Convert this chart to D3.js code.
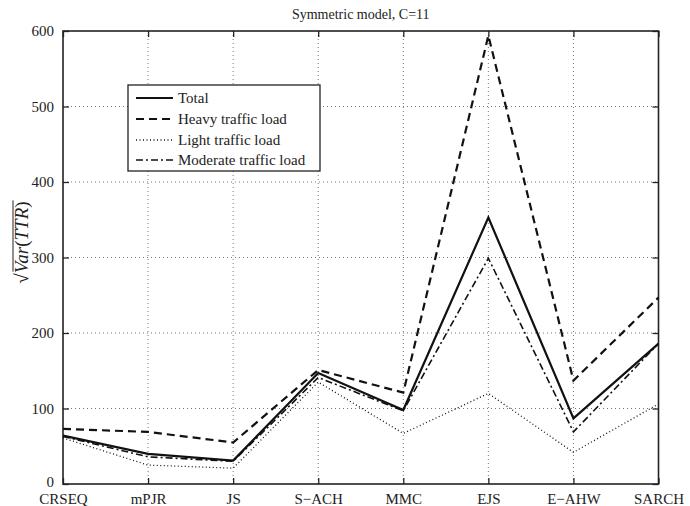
<!DOCTYPE html>
<html>
<head>
<meta charset="utf-8">
<script src="https://cdn.jsdelivr.net/npm/d3@7"></script>
<style>
body{margin:0;background:#fff;}
svg{display:block;font-family:"Liberation Serif","Times New Roman",serif;}
</style>
</head>
<body>
<svg id="chart" width="690" height="506"></svg>
<script>
const categories = ["CRSEQ","mPJR","JS","S\u2212ACH","MMC","EJS","E\u2212AHW","SARCH"];
const total    = [64, 40, 31, 147, 98, 353, 87, 186];
const heavy    = [73, 69, 55, 151, 121, 594, 137, 247];
const light    = [61, 25, 21, 135, 67, 120, 42, 106];
const moderate = [63, 36, 30, 141, 97, 299, 69, 186];
const yTicks = [0, 100, 200, 300, 400, 500, 600];
const seriesNames = ["Total","Heavy traffic load","Light traffic load","Moderate traffic load"];

const styles = [
  {w:2.2, dash:null},
  {w:2.2, dash:"8,5"},
  {w:1.3, dash:"1,2.5"},
  {w:1.6, dash:"7,3,2,3"}
];
const seriesData = [total, heavy, light, moderate];

const svg = d3.select("#chart");
const L = 63, R = 658.5, T = 31, B = 484;
const x = d3.scalePoint().domain(categories).range([L, R]);
const y = d3.scaleLinear().domain([0, 600]).range([B, T]);

// grid
const grid = svg.append("g").attr("stroke","#777").attr("stroke-width",1).attr("stroke-dasharray","1,3");
grid.selectAll("line.gx").data(categories.slice(1, -1)).enter().append("line")
  .attr("x1", d => x(d)).attr("x2", d => x(d)).attr("y1", T).attr("y2", B);
grid.selectAll("line.gy").data(yTicks.slice(1, -1)).enter().append("line")
  .attr("y1", d => y(d)).attr("y2", d => y(d)).attr("x1", L).attr("x2", R);

// axes
const fontSize = 15;
const xAxis = d3.axisBottom(x).tickSizeInner(-6).tickSizeOuter(0).tickPadding(9);
const xTop = d3.axisTop(x).tickSizeInner(-6).tickSizeOuter(0).tickFormat("");
const yAxis = d3.axisLeft(y).tickValues(yTicks).tickSizeInner(-6).tickSizeOuter(0).tickPadding(9);
const yRight = d3.axisRight(y).tickValues(yTicks).tickSizeInner(-6).tickSizeOuter(0).tickFormat("");

function styleAxis(g){
  g.select(".domain").remove();
  g.selectAll("line").attr("stroke","#222").attr("stroke-width",1.3);
  g.selectAll("text").attr("font-size",fontSize).attr("fill","#222")
    .attr("font-family","'Liberation Serif','Times New Roman',serif");
}
svg.append("g").attr("transform",`translate(0,${B})`).call(xAxis).call(styleAxis);
svg.append("g").attr("transform",`translate(0,${T})`).call(xTop).call(styleAxis);
const yg = svg.append("g").attr("transform",`translate(${L},0)`).call(yAxis).call(styleAxis);
yg.selectAll(".tick text").filter(d => d === 0).attr("dy","0.18em");
svg.append("g").attr("transform",`translate(${R},0)`).call(yRight).call(styleAxis);

svg.append("rect").attr("x",L).attr("y",T).attr("width",R-L).attr("height",B-T)
  .attr("fill","none").attr("stroke","#222").attr("stroke-width",1.6);

// lines
const line = d3.line().x((d,i) => x(categories[i])).y(d => y(d));
seriesData.forEach((s, i) => {
  svg.append("path").datum(s).attr("d", line)
    .attr("fill","none").attr("stroke","#111")
    .attr("stroke-width", styles[i].w)
    .attr("stroke-dasharray", styles[i].dash)
    .attr("stroke-linejoin","miter");
});

// title
svg.append("text").attr("x",(L+R)/2).attr("y",19).attr("text-anchor","middle")
  .attr("font-size",14).attr("fill","#222").text("Symmetric model, C=11");

// y label
const yl = svg.append("g").attr("transform",`translate(28,${(T+B)/2 - 15}) rotate(-90)`);
const ylt = yl.append("text").attr("text-anchor","middle").attr("font-size",19).attr("fill","#222");
ylt.append("tspan").text("\u221A");
ylt.append("tspan").attr("font-style","italic").text("Var");
ylt.append("tspan").text("(");
ylt.append("tspan").attr("font-style","italic").text("TTR");
ylt.append("tspan").text(")");
const bb = ylt.node().getBBox();
yl.append("line").attr("x1", bb.x + 12).attr("x2", bb.x + bb.width + 1)
  .attr("y1", bb.y + 2).attr("y2", bb.y + 2).attr("stroke","#222").attr("stroke-width",1);

// legend
const lg = svg.append("g");
lg.append("rect").attr("x",128).attr("y",85).attr("width",192).attr("height",86)
  .attr("fill","#fff").attr("stroke","#222").attr("stroke-width",1.3);
const rowY = [98, 119, 140, 160];
seriesNames.forEach((n, i) => {
  lg.append("line").attr("x1",136).attr("x2",173).attr("y1",rowY[i]).attr("y2",rowY[i])
    .attr("stroke","#111").attr("stroke-width",styles[i].w).attr("stroke-dasharray",styles[i].dash);
  lg.append("text").attr("x",178).attr("y",rowY[i]).attr("dy","0.35em")
    .attr("font-size",15).attr("fill","#222").text(n);
});
</script>
</body>
</html>
